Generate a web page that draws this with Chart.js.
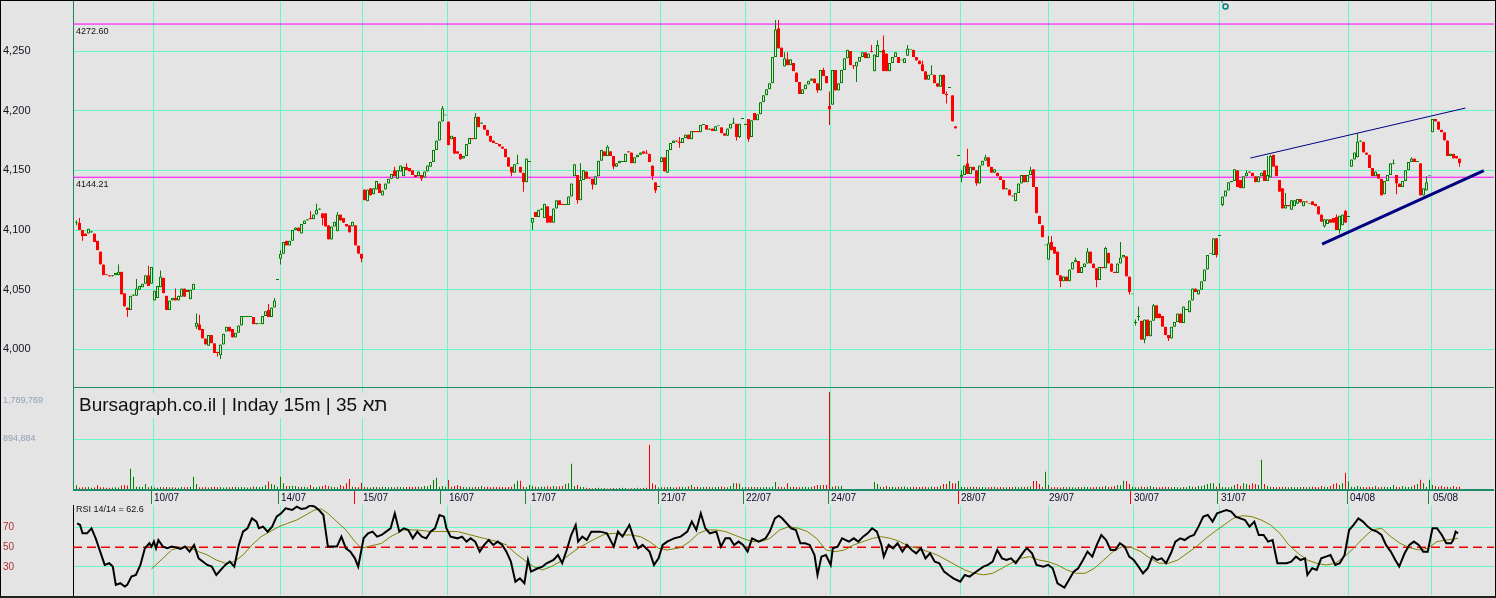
<!DOCTYPE html>
<html><head><meta charset="utf-8">
<script src="https://cdn.jsdelivr.net/npm/chart.js@4.4.1/dist/chart.umd.min.js"></script>
<style>
html,body{margin:0;padding:0;background:#e4e4e4;overflow:hidden}
#wrap{position:relative;width:1496px;height:598px;background:#e4e4e4}
canvas{position:absolute;left:0}
#frame{position:absolute;left:0;top:0;width:1494px;height:595px;border:1px solid #000;border-bottom:2px solid #222;pointer-events:none}
</style></head>
<body>
<div id="wrap">
<canvas id="cPrice" width="1496" height="388" style="top:0"></canvas>
<canvas id="cVol" width="1496" height="118" style="top:387px"></canvas>
<canvas id="cRsi" width="1496" height="93" style="top:505px"></canvas>
<div id="frame"></div>
</div>
<script>
// ---------------- DATA ----------------
const open = [
4106,4106,4100,4097,4097,4098,4097,4091,4082,4071,
4063,4062,4061,4062,4062,4065,4047,4035,4033,4045,
4045,4050,4052,4055,4062,4055,4041,4043,4052,4060,
4045,4033,4041,4043,4041,4044,4051,4050,4042,4050,
4019,4021,4017,4009,4003,4012,4005,3998,3995,4004,
4015,4019,4017,4010,4014,4020,4027,4027,4027,4027,
4021,4021,4021,4028,4033,4027,4035,4058,4076,4080,
4091,4087,4091,4100,4102,4097,4105,4108,4110,4109,
4113,4117,4114,4114,4104,4092,4103,4099,4113,4110,
4105,4104,4103,4104,4087,4080,4134,4124,4135,4130,
4134,4139,4129,4134,4139,4143,4150,4143,4149,4145,
4153,4152,4150,4146,4145,4146,4144,4149,4153,4157,
4167,4175,4191,4196,4191,4176,4178,4166,4164,4160,
4162,4172,4177,4176,4195,4189,4188,4184,4179,4175,
4173,4172,4170,4168,4161,4153,4148,4155,4153,4148,
4140,4157,4106,4115,4111,4117,4110,4120,4112,4106,
4118,4125,4122,4121,4121,4128,4145,4146,4125,4142,
4149,4144,4143,4138,4145,4158,4166,4162,4166,4162,
4153,4156,4157,4157,4166,4165,4156,4161,4163,4166,
4165,4164,4154,4140,4136,4157,4161,4148,4167,4173,
4175,4174,4173,4177,4180,4176,4183,4183,4182,4188,
4188,4184,4185,4183,4187,4186,4181,4179,4185,4189,
4189,4178,4193,4188,4193,4178,4198,4192,4197,4207,
4213,4218,4223,4245,4269,4253,4237,4243,4238,4240,
4232,4224,4214,4218,4222,4225,4227,4223,4217,4234,
4229,4204,4205,4234,4217,4223,4234,4244,4250,4238,
4237,4241,4245,4249,4244,4250,4233,4245,4249,4251,
4248,4233,4240,4245,4245,4242,4240,4246,4251,4251,
4245,4242,4239,4233,4226,4230,4230,4223,4220,4230,
4214,4219,4213,4187,4162,4144,4146,4156,4147,4153,
4150,4139,4154,4158,4161,4153,4148,4148,4145,4142,
4134,4134,4129,4124,4131,4139,4146,4140,4146,4151,
4136,4112,4104,4087,4075,4090,4086,4082,4062,4057,
4061,4057,4067,4073,4074,4064,4069,4072,4082,4072,
4068,4058,4069,4068,4081,4072,4065,4064,4072,4077,
4078,4061,4046,4022,4027,4024,4008,4025,4011,4024,
4037,4030,4028,4019,4012,4009,4019,4023,4030,4022,
4033,4031,4041,4051,4046,4050,4057,4067,4080,4079,
4093,4095,4121,4128,4133,4140,4141,4150,4142,4135,
4145,4149,4148,4145,4140,4145,4150,4141,4144,4163,
4154,4142,4135,4118,4121,4117,4120,4122,4126,4120,
4124,4122,4124,4122,4120,4113,4103,4105,4109,4110,
4111,4100,4104,4116,4111,4153,4159,4161,4174,4174,
4165,4163,4152,4145,4147,4143,4130,4141,4146,4155,
4146,4139,4136,4141,4150,4157,4160,4157,4156,4129,
4133,4145,4182,4193,4191,4184,4182,4175,4162,4164,
4162,4160];
const close = [
4106,4100,4095,4095,4101,4099,4090,4083,4071,4062,
4062,4061,4062,4064,4065,4046,4036,4033,4045,4046,
4051,4053,4055,4062,4053,4069,4049,4053,4061,4047,
4033,4041,4043,4041,4045,4051,4044,4048,4050,4055,
4022,4016,4009,4004,4012,4005,3997,3997,4004,4013,
4019,4015,4010,4014,4020,4028,4027,4028,4027,4021,
4022,4021,4028,4032,4027,4035,4041,4058,4080,4090,
4087,4091,4100,4102,4099,4105,4108,4109,4109,4113,
4117,4118,4110,4103,4092,4103,4107,4113,4108,4106,
4103,4098,4107,4087,4080,4076,4125,4134,4129,4135,
4141,4131,4133,4139,4143,4147,4145,4150,4154,4153,
4150,4149,4146,4144,4149,4143,4149,4154,4157,4167,
4175,4191,4202,4196,4171,4179,4164,4164,4159,4162,
4172,4177,4176,4195,4186,4190,4184,4179,4174,4173,
4172,4170,4168,4161,4153,4148,4155,4155,4148,4140,
4160,4157,4110,4111,4117,4118,4122,4106,4106,4118,
4125,4121,4121,4121,4128,4139,4155,4125,4142,4150,
4143,4143,4138,4145,4158,4167,4162,4170,4162,4153,
4156,4158,4157,4164,4165,4156,4161,4163,4165,4164,
4164,4157,4145,4133,4136,4161,4149,4167,4173,4175,
4174,4173,4177,4180,4176,4183,4182,4182,4188,4188,
4184,4185,4183,4187,4187,4181,4179,4185,4189,4190,
4178,4189,4193,4189,4176,4192,4192,4197,4207,4213,
4218,4223,4245,4268,4252,4245,4244,4238,4243,4233,
4224,4214,4218,4222,4225,4227,4223,4217,4234,4229,
4223,4201,4234,4217,4223,4234,4244,4251,4238,4237,
4241,4245,4249,4244,4248,4249,4247,4255,4250,4233,
4233,4240,4245,4249,4240,4242,4244,4252,4251,4245,
4242,4239,4233,4226,4230,4230,4223,4220,4230,4214,
4213,4219,4191,4185,4162,4146,4154,4147,4153,4150,
4139,4154,4158,4161,4153,4148,4151,4145,4142,4134,
4135,4129,4128,4131,4139,4146,4140,4146,4150,4136,
4114,4105,4094,4087,4089,4083,4080,4062,4057,4061,
4057,4067,4073,4075,4064,4069,4072,4082,4072,4068,
4058,4069,4068,4085,4072,4065,4064,4072,4077,4079,
4061,4048,4046,4022,4027,4008,4025,4011,4024,4037,
4026,4026,4019,4012,4009,4019,4023,4030,4022,4036,
4033,4041,4051,4048,4050,4057,4067,4079,4080,4093,
4079,4095,4128,4133,4140,4141,4151,4136,4135,4145,
4148,4148,4145,4140,4145,4148,4141,4146,4162,4153,
4145,4132,4118,4121,4120,4125,4125,4126,4123,4124,
4123,4122,4121,4120,4113,4107,4109,4109,4106,4106,
4100,4112,4113,4106,4111,4159,4165,4174,4175,4165,
4163,4152,4145,4149,4143,4129,4141,4146,4156,4156,
4139,4136,4141,4150,4157,4160,4157,4157,4129,4135,
4140,4145,4193,4191,4184,4182,4175,4162,4164,4160,
4160,4156];
// visible wicks: [bar, low, high]
const wicks = [[0,4104,4108],[1,4100,4110],[2,4091,4100],[14,4062,4071],[17,4027,4035],[20,4045,4059],[24,4053,4070],[28,4052,4066],[33,4041,4051],[40,4017,4030],[41,4016,4029],[47,3994,3998],[48,3992,4004],[64,4027,4038],[66,4035,4043],[68,4071,4083],[78,4109,4116],[80,4113,4122],[82,4104,4114],[87,4099,4115],[95,4073,4080],[106,4145,4153],[110,4150,4156],[115,4141,4146],[122,4191,4204],[133,4176,4198],[145,4145,4153],[147,4155,4163],[149,4132,4148],[152,4100,4110],[167,4122,4146],[168,4125,4156],[172,4134,4143],[177,4162,4171],[179,4151,4162],[190,4164,4167],[192,4142,4154],[193,4131,4140],[201,4169,4178],[219,4189,4194],[220,4175,4189],[221,4177,4189],[224,4174,4193],[233,4245,4276],[234,4252,4276],[236,4237,4249],[237,4238,4249],[247,4215,4223],[249,4229,4236],[251,4188,4216],[259,4235,4238],[260,4224,4241],[265,4249,4255],[267,4245,4259],[269,4233,4263],[277,4246,4255],[282,4233,4242],[285,4230,4238],[290,4206,4216],[295,4140,4150],[297,4147,4168],[300,4137,4150],[303,4158,4163],[318,4146,4153],[324,4075,4095],[325,4083,4095],[328,4052,4062],[333,4073,4077],[337,4072,4085],[340,4052,4068],[343,4068,4086],[348,4072,4090],[351,4046,4061],[353,4020,4025],[354,4024,4036],[356,4005,4025],[359,4024,4038],[364,4007,4012],[380,4077,4093],[382,4120,4128],[390,4145,4150],[397,4141,4162],[398,4144,4163],[403,4118,4131],[416,4102,4109],[420,4100,4113],[421,4097,4112],[423,4106,4117],[427,4161,4181],[439,4155,4159],[440,4130,4146],[445,4157,4161],[450,4133,4145],[461,4153,4160]];
// volume per bar, thousands
const volume = [
84,45,50,48,52,40,45,84,48,48,
40,42,45,50,45,80,85,80,382,239,
60,60,55,107,50,72,45,40,55,50,
55,48,50,45,42,55,48,52,60,239,
107,50,48,55,45,52,60,48,55,45,
50,48,55,60,50,52,48,45,50,62,
58,55,60,90,150,107,90,60,239,120,
72,70,75,72,60,55,60,48,90,55,
50,62,70,90,72,60,55,48,90,65,
120,197,60,55,50,131,55,48,45,52,
55,50,60,52,48,55,50,60,55,50,
52,58,55,60,62,55,72,65,90,179,
221,60,70,60,179,60,72,90,70,55,
50,55,48,60,52,70,55,60,50,55,
55,60,52,48,55,60,108,167,167,60,
55,90,70,60,55,62,60,65,58,70,
62,65,70,108,120,471,72,90,60,55,
40,35,30,35,40,30,35,28,30,35,
30,35,40,35,28,30,35,40,30,35,
40,811,120,90,45,50,48,55,60,45,
50,60,55,48,62,90,55,60,50,55,
60,52,48,55,60,62,55,50,72,120,
120,110,50,55,48,60,52,55,50,48,
55,50,60,143,60,55,50,120,55,60,
52,48,55,58,50,60,72,90,85,90,
90,1754,60,72,65,70,0,0,0,0,
0,0,0,0,0,0,143,108,60,55,
72,55,60,48,58,55,62,50,55,60,
52,55,60,58,50,62,55,60,72,108,
108,161,120,120,161,60,55,48,55,60,
52,48,55,50,48,55,60,48,55,50,
48,52,55,60,48,52,55,58,62,161,
161,108,55,328,90,48,55,50,45,52,
48,55,50,45,52,48,60,55,50,48,
55,60,58,72,55,60,72,90,85,167,
161,108,60,50,48,62,55,60,72,55,
50,48,55,60,52,48,55,50,45,52,
48,72,60,55,72,72,90,108,120,120,
60,120,55,50,48,60,90,108,72,120,
108,90,120,108,90,543,108,72,60,55,
48,55,60,52,48,55,50,48,52,55,
48,55,60,52,48,72,60,55,72,108,
120,90,120,310,150,60,55,72,60,55,
48,60,55,72,50,55,60,52,55,90,
60,55,72,60,55,62,90,108,185,120,
55,185,90,72,60,72,55,60,50,72,
55,60];
// RSI(14) line as [bar, value]
const rsiPts = [[0.2,74.4],[1.2,72.7],[2,64.2],[3.5,64.2],[5,69.3],[6.4,59.1],[7.9,45.6],[9.4,32.1],[10.9,33.8],[12.1,30.4],[13.1,11.8],[14.6,13.5],[16.1,10.1],[16.9,11.8],[18.3,20.2],[19.8,21.9],[21.3,32.1],[22.8,49],[24.3,54.1],[25,50.7],[25.8,55.8],[26.5,49],[27.3,57.4],[28.8,50.7],[30.3,49],[31.7,50.7],[33.2,49.7],[34.7,48.3],[36.2,50.7],[37.7,45.6],[39.2,52.4],[40.7,38.8],[42.2,35.4],[43.6,32.1],[45.1,30.4],[46.6,21.9],[48.1,27],[49.6,32.1],[51.1,35.4],[52.6,30.4],[54.1,52.4],[55.5,65.9],[57,69.3],[58.5,79.4],[60,76.1],[60.8,69.3],[62.2,71],[63.7,65.9],[65.2,71],[66.7,81.1],[68.2,84.5],[69.7,89.6],[71.9,87.9],[73.4,91.3],[74.9,88.9],[76.4,89.6],[77.9,92.5],[79.4,91.3],[80.8,87.9],[82.3,82.8],[83.8,50.7],[85.3,50.7],[86.8,50.7],[88.3,60.8],[89.8,49],[91.3,45.6],[92.8,38.8],[93.9,30.4],[95.7,59.1],[97.2,64.2],[98.7,65.9],[100.2,60.8],[101.7,62.5],[103.2,65.9],[104.7,69.3],[106.1,84.5],[107.6,65.9],[109.1,69.3],[110.6,67.6],[112.1,59.1],[113.6,65.9],[115.1,60.8],[116.6,59.1],[118,65.9],[119.5,69.3],[121,82.8],[122.5,81.1],[123.3,69.3],[124.7,60.8],[127,59.1],[128.5,60.8],[130,55.8],[131.4,59.1],[132.9,55.8],[134.4,45.6],[135.9,52.4],[137.4,57.4],[138.9,52.4],[140.4,55.8],[141.9,52.4],[143.3,45.6],[144.8,35.4],[146.3,15.1],[147.8,18.5],[149.3,13.5],[150.5,37.1],[151.5,25.3],[153.8,28.7],[155.3,30.4],[156.7,33.8],[159,37.1],[160.5,42.2],[161.9,33.8],[163.4,47.3],[164.9,62.5],[166.4,72.7],[167.2,55.8],[168.6,60.8],[170.1,57.4],[171.6,65.9],[174.6,65.9],[176.8,64.2],[179.1,50.7],[180.5,65.9],[182,60.8],[184.3,72.7],[185.8,59.1],[187.2,49],[188.7,52.4],[191,45.6],[192.5,32.1],[194,38.8],[195.4,52.4],[196.9,55.8],[199.2,59.1],[201.4,60.8],[203.6,65.9],[205.1,76.1],[206.6,67.6],[208.1,84.5],[209.6,69.3],[211.1,64.2],[213.3,65.9],[214.8,50.7],[216.3,59.1],[217.8,59.1],[219.2,52.4],[220.7,55.8],[222.2,52.4],[223.7,45.6],[225.2,59.1],[227.4,55.8],[229.7,59.1],[231.1,65.9],[232.8,79.4],[234.1,82.1],[235.2,79.4],[236.7,74.4],[238.2,69.3],[239.8,67.6],[241.3,54.1],[242.9,54.1],[244.4,52.4],[246,42.2],[247,21.9],[248.3,40.5],[249.8,42.2],[251.4,32.1],[252.1,49],[253.7,50.7],[255.2,59.1],[257.5,55.8],[259.1,59.1],[260.6,55.8],[262.2,60.8],[263.7,64.2],[265.2,69.3],[266.8,65.9],[268.3,52.4],[269.1,40.5],[270.7,52.4],[272.2,49],[273.7,54.1],[275.3,45.6],[276.8,52.4],[278.4,47.3],[279.9,43.9],[281.5,49],[283,38.8],[284.5,43.9],[286.1,35.4],[287.6,33.8],[289.2,25.3],[290.7,21.9],[292.3,18.5],[294.6,15.1],[296.1,21.9],[297.7,20.2],[299.2,23.6],[300.7,27],[302.3,30.4],[303.8,32.1],[305.4,35.4],[306.9,47.3],[308.5,38.8],[310,37.1],[311.5,38.8],[313.1,33.8],[314.6,40.5],[316.2,47.3],[316.9,49],[318.5,43.9],[320,32.1],[322.3,30.4],[323.9,32.1],[325.4,28.7],[327,13.5],[329.3,9.1],[330.8,16.8],[332.4,25.3],[333.9,28.7],[335.5,37.1],[337,45.6],[338.6,40.5],[340.1,52.4],[341.6,62.5],[343.2,57.4],[344.7,47.3],[346.3,47.3],[347.8,54.1],[349.4,50.7],[350.9,40.5],[352.4,37.1],[354,30.4],[355.5,23.6],[357.1,28.7],[358.6,40.5],[360.2,37.1],[361.7,38.8],[363.2,33.8],[364.8,43.9],[366.3,55.8],[367.9,59.1],[369.4,57.4],[371,60.8],[372.5,62.5],[374,71],[375.6,81.1],[377.1,82.8],[378.7,76.1],[380.2,84.5],[381.8,86.2],[383.3,87.9],[384.9,86.2],[386.4,81.1],[387.9,79.4],[389.5,77.7],[391,71],[392.6,76.1],[394.1,62.5],[395.7,62.5],[397.2,55.8],[398.7,57.4],[400.3,33.8],[401.8,33.8],[403.4,33.8],[404.9,35.4],[406.5,40.5],[408,37.1],[409.5,38.8],[410.3,21.9],[411.9,28.7],[413.4,27],[414.9,38.8],[416.5,40.5],[418,42.2],[419.6,32.1],[421.1,33.8],[422.7,42.2],[424.2,67.6],[425.7,72.7],[427.3,79.4],[428.8,76.1],[430.4,71],[431.9,67.6],[433.5,65.9],[435,62.5],[436.5,52.4],[438.1,45.6],[439.6,37.1],[440.9,30.4],[442.7,43.9],[444.3,52.4],[445.8,55.8],[447.4,52.4],[448.9,45.6],[450.4,45.6],[452,69.3],[453.5,69.3],[455.1,62.5],[456.6,54.1],[458.2,54.1],[458.9,57.4],[459.7,65.9],[460.5,64.2]];
// RSI signal (14) as [bar, value]
const rsiMaPts = [[25,28],[28.8,38.8],[31.7,47.3],[34.7,50],[37.7,49.7],[40.7,45.6],[43.6,42.2],[46.6,37.1],[49.6,33.8],[52.6,35.4],[55.5,42.2],[58.5,52.4],[61.5,60.8],[64.5,65.9],[67.5,71],[70.4,74.4],[73.4,77.7],[76.4,82.8],[79.4,87.9],[81.6,88.9],[83.8,84.5],[86.8,76],[89.8,67.6],[92.8,55.8],[95,49],[97.2,50.7],[101.7,54],[104.7,60.8],[109,67.6],[113.6,67.6],[118,66],[122.5,66],[127,66],[131.4,62.5],[135.9,59],[140.4,55.8],[143.3,52.4],[146.3,43.9],[149.3,37.1],[152.3,30.4],[155.3,27],[158.2,30.4],[161.2,35.4],[164.2,42.2],[167.2,49],[170.1,54],[173.1,59],[176.1,63.2],[179.1,64.2],[182,62.5],[185,62.5],[188,60.8],[191,55.8],[194,49],[196.9,47.3],[201.4,49.7],[204.4,55.8],[207.3,64.2],[210.3,67.6],[213.3,67.6],[216.3,66],[219.2,62.5],[222.2,59],[225.2,55.8],[228.2,55.8],[231.1,59],[234.4,67.6],[237.5,71],[240.6,69.3],[243.6,66],[246.7,59],[249.8,47.3],[252.9,45.6],[256,47.3],[259.1,52.4],[262.2,55.8],[265.3,59],[268.3,60.8],[271.4,59],[274.5,55.8],[277.6,50.7],[280.7,49],[283.8,45.6],[286.9,42.2],[290,37.1],[293,32],[296.1,27],[299.2,23.6],[302.3,22],[305.4,23.6],[308.5,28.7],[311.5,33.8],[314.6,38.8],[317.7,40.5],[320.8,37.1],[323.9,35.4],[327,32],[330.1,27],[333.2,23.6],[336.2,23.6],[339.3,28.7],[342.4,37.1],[345.5,45.6],[348.6,50.7],[351.7,49.7],[354.8,45.6],[357.8,38.8],[360.9,33.8],[364,33.8],[367.1,37.1],[370.2,43.9],[373.3,50.7],[376.4,59],[379.4,65.9],[382.5,72.7],[385.6,79.4],[388.7,82.1],[391.8,81.1],[394.9,77.7],[398,72.7],[401.1,64.2],[404.1,52.4],[407.2,43.9],[410.3,37.1],[413.4,33.8],[416.5,32],[419.6,33.8],[422.7,40.5],[425.7,49],[428.8,59],[431.9,67.6],[435,69.3],[438.1,60.8],[441.2,54],[444.3,49.7],[447.4,47.3],[450.4,49],[453.5,55.8],[456.6,57.4],[460.5,59]];
const dateLabels = ['10/07','14/07','15/07','16/07','17/07','21/07','22/07','24/07','28/07','29/07','30/07','31/07','04/08','05/08'];
const dayLines = [25.6,67.9,95.3,123.8,151.3,194.6,222.9,251.3,294.6,323.9,352.3,381,424.1,451.7];
const dateTicks = [24.7,67.2,92.5,121.2,149.5,193.8,222.2,250.5,293.7,null,351.2,380.2,423.5,450.5];
const dateTickUp = [true,true,false,true,true,true,true,true,false,true,false,true,true,true];
const priceTicks = [4000,4050,4100,4150,4200,4250];
const levels = [4272.60, 4144.21];
const trendUpX = [391.3, 463.0], trendUpY = [4160.3, 4202.2];
const trendLoX = [415.2, 469.1], trendLoY = [4088.2, 4149.7];
const markerX = [381.6, 383.0], markerY = [4292.0, 4287.2];
const volTicks = [894884, 1789769];
const rsiTicks = [30, 50, 70];
const rsiLast = 62.6;
const title = 'Bursagraph.co.il | Inday 15m | 35 \u05EA\u05D0';

// ---------------- STYLE ----------------
const BG = '#e4e4e4', GRID = '#66f7c8', AXG = '#1e8a5e';
const UPC = '#008000', DNC = '#ff0000';
const FONT = "'Liberation Sans', Arial, sans-serif";
const X_MIN = -7/6, X_MAX = 472.5;
Chart.defaults.font.family = FONT;
Chart.defaults.animation = false;

const N = Math.min(open.length, close.length);
const hi = [], lo = [], up = [];
for (let i = 0; i < N; i++) { hi[i] = Math.max(open[i], close[i]); lo[i] = Math.min(open[i], close[i]); up[i] = close[i] >= open[i]; }
wicks.forEach(([i, l, h]) => { if (i < N) { lo[i] = Math.min(lo[i], l); hi[i] = Math.max(hi[i], h); } });

function noPad(s) { s.paddingTop = 0; s.paddingBottom = 0; s.paddingLeft = 0; s.paddingRight = 0; }
function xAxis() {
  return {
    type: 'linear', min: X_MIN, max: X_MAX, offset: false,
    grid: { color: GRID, lineWidth: 1, drawTicks: false, offset: false },
    border: { display: false },
    ticks: { display: false },
    afterBuildTicks: s => { s.ticks = dayLines.map(v => ({ value: v })); },
    afterFit: s => { s.height = 0; noPad(s); }
  };
}
const common = {
  responsive: false, devicePixelRatio: 1, animation: false,
  plugins: { legend: { display: false }, tooltip: { enabled: false } },
  events: []
};

// ---------- PRICE ----------
const levelText = {
  id: 'levelText',
  afterDatasetsDraw(chart) {
    const c = chart.ctx, ys = chart.scales.y;
    c.save(); c.font = '9px ' + FONT; c.fillStyle = '#111'; c.textBaseline = 'middle'; c.textAlign = 'left';
    levels.forEach(v => c.fillText(v.toFixed(2), 76, ys.getPixelForValue(v) + 7));
    c.restore();
  }
};
new Chart(document.getElementById('cPrice'), {
  type: 'bar',
  data: {
    datasets: [
      { type: 'line', data: [{x: X_MIN, y: levels[0]}, {x: X_MAX, y: levels[0]}], borderColor: '#ff00ff', borderWidth: 1, pointRadius: 0, order: 5 },
      { type: 'line', data: [{x: X_MIN, y: levels[1]}, {x: X_MAX, y: levels[1]}], borderColor: '#ff00ff', borderWidth: 1, pointRadius: 0, order: 5 },
      { data: Array.from({length: N}, (_, i) => ({x: i, y: [lo[i], hi[i]]})),
        backgroundColor: up.map(u => u ? UPC : DNC), borderWidth: 0, barThickness: 1, grouped: false, inflateAmount: 0, order: 4 },
      { data: Array.from({length: N}, (_, i) => ({x: i, y: [open[i], close[i]]})),
        backgroundColor: up.map(u => u ? BG : DNC), borderColor: up.map(u => u ? UPC : DNC),
        borderWidth: 1, borderSkipped: false, barThickness: 3, grouped: false, inflateAmount: 0, minBarLength: 1, order: 3 },
      { type: 'line', data: trendUpX.map((x, k) => ({x, y: trendUpY[k]})), borderColor: '#000080', borderWidth: 1, pointRadius: 0, order: 1 },
      { type: 'line', data: trendLoX.map((x, k) => ({x, y: trendLoY[k]})), borderColor: '#000080', borderWidth: 3, pointRadius: 0, order: 1 },
      { type: 'line', data: markerX.map((x, k) => ({x, y: markerY[k]})), borderColor: '#000080', borderWidth: 1, borderDash: [1, 1],
        pointRadius: [0, 2.5], pointBorderColor: '#008080', pointBorderWidth: 1.5, pointBackgroundColor: BG, order: 1 }
    ]
  },
  options: Object.assign({}, common, {
    layout: { autoPadding: false, padding: { left: 3, right: 2, top: 1, bottom: 0 } },
    scales: {
      x: xAxis(),
      y: {
        min: 3967.6, max: 4291.9,
        afterBuildTicks: s => { s.ticks = priceTicks.map(v => ({ value: v })); },
        afterFit: s => { s.width = 70; noPad(s); },
        grid: { color: GRID, drawTicks: false },
        border: { display: true, color: AXG, width: 1 },
        ticks: { crossAlign: 'far', padding: 0, color: '#14141e', font: { family: FONT, size: 11 },
          callback: v => Number(v).toLocaleString('en-US') }
      }
    }
  }),
  plugins: [levelText]
});

// ---------- VOLUME ----------
const volDecor = {
  id: 'volDecor',
  afterDraw(chart) {
    const c = chart.ctx, a = chart.chartArea, xs = chart.scales.x, ys = chart.scales.y;
    c.save();
    c.fillStyle = AXG; c.fillRect(a.left, 0, a.right - a.left, 1);
    c.fillStyle = '#1e8c6c'; c.fillRect(a.left, a.bottom - 1, a.right - a.left, 2);
    c.font = '9px ' + FONT; c.fillStyle = '#8ea2b6'; c.textBaseline = 'middle'; c.textAlign = 'left';
    c.fillText(volTicks[1].toLocaleString('en-US'), 3, 14);
    c.fillText(volTicks[0].toLocaleString('en-US'), 3, ys.getPixelForValue(volTicks[0]) - 1);
    c.font = '19px ' + FONT;
    const w = c.measureText(title).width;
    c.fillStyle = BG; c.fillRect(76, 6, w + 6, 25);
    c.fillStyle = '#111'; c.textBaseline = 'alphabetic';
    c.fillText(title, 79, 24);
    for (let k = 0; k < dateLabels.length; k++) {
      if (dateTicks[k] !== null) {
        const tx = Math.round(xs.getPixelForValue(dateTicks[k]));
        c.fillStyle = dateTickUp[k] ? '#1b8a3a' : DNC;
        c.fillRect(tx, a.bottom + 1, 1, 13);
      }
      const lx = Math.round(xs.getPixelForValue(dayLines[k])) + 1;
      c.font = '10px ' + FONT; c.fillStyle = '#0c0c2c'; c.textBaseline = 'middle';
      c.fillText(dateLabels[k], lx, a.bottom + 8.5);
    }
    c.restore();
  }
};
new Chart(document.getElementById('cVol'), {
  type: 'bar',
  data: { datasets: [{ data: Array.from({length: N}, (_, i) => ({x: i, y: (volume[i] || 0) * 1000})),
    backgroundColor: up.map(u => u ? UPC : DNC), borderWidth: 0, barThickness: 1, grouped: false, inflateAmount: 0 }] },
  options: Object.assign({}, common, {
    layout: { autoPadding: false, padding: { left: 3, right: 2, top: 1, bottom: 15 } },
    scales: {
      x: xAxis(),
      y: {
        min: 0, max: 1825563,
        afterBuildTicks: s => { s.ticks = [{ value: volTicks[0] }]; },
        afterFit: s => { s.width = 70; noPad(s); },
        grid: { color: GRID, drawTicks: false },
        border: { display: true, color: AXG, width: 1 },
        ticks: { display: false }
      }
    }
  }),
  plugins: [volDecor]
});

// ---------- RSI ----------
const rsiDecor = {
  id: 'rsiDecor',
  afterDraw(chart) {
    const c = chart.ctx;
    c.save(); c.font = '9px ' + FONT; c.fillStyle = '#111'; c.textBaseline = 'middle'; c.textAlign = 'left';
    c.fillText('RSI 14/14 = ' + rsiLast.toFixed(1), 76, 5);
    c.restore();
  }
};
new Chart(document.getElementById('cRsi'), {
  type: 'line',
  data: { datasets: [
    { data: [{x: X_MIN, y: 50}, {x: X_MAX, y: 50}], borderColor: '#ee0000', borderWidth: 1.5, borderDash: [9, 5], pointRadius: 0, order: 3 },
    { data: rsiMaPts.map(p => ({x: p[0], y: p[1]})), borderColor: '#808000', borderWidth: 1, pointRadius: 0, order: 2 },
    { data: rsiPts.map(p => ({x: p[0], y: p[1]})), borderColor: '#000', borderWidth: 2, pointRadius: 0, order: 1 }
  ] },
  options: Object.assign({}, common, {
    layout: { autoPadding: false, padding: { left: 3, right: 2, top: 0, bottom: 3 } },
    scales: {
      x: xAxis(),
      y: {
        min: 1.57, max: 92.94,
        afterBuildTicks: s => { s.ticks = rsiTicks.map(v => ({ value: v })); },
        afterFit: s => { s.width = 70; noPad(s); },
        grid: { color: ctx => (ctx.tick && ctx.tick.value === 50) ? 'rgba(0,0,0,0)' : GRID, drawTicks: false },
        border: { display: true, color: '#000', width: 1 },
        ticks: { crossAlign: 'far', padding: 0, color: '#b03030', font: { family: FONT, size: 10 } }
      }
    }
  }),
  plugins: [rsiDecor]
});
</script>
</body></html>
